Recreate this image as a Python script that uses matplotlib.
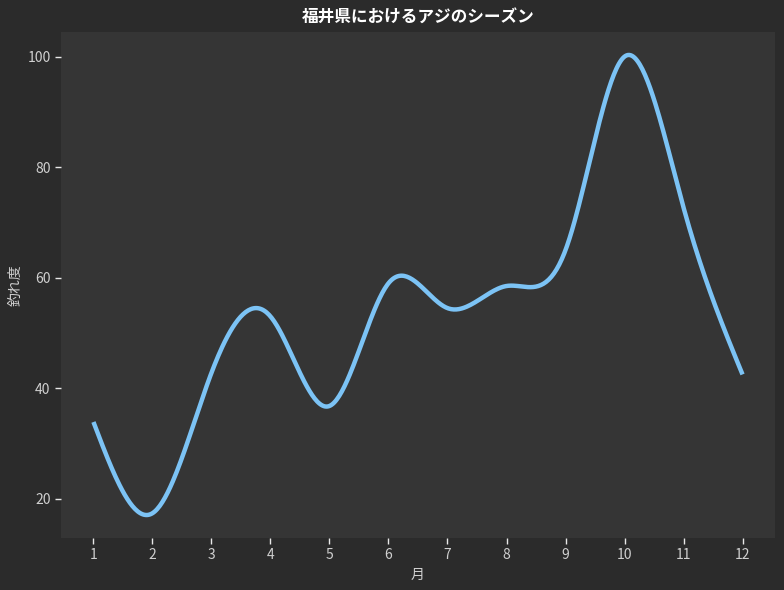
import numpy as np
import matplotlib
matplotlib.use("Agg")
import matplotlib.pyplot as plt

plt.rcParams['font.family'] = ['Noto Sans CJK JP', 'DejaVu Sans']

months = [1, 2, 3, 4, 5, 6, 7, 8, 9, 10, 11, 12]
catch_rate = [33.9, 17.4, 42.8, 53.0, 36.8, 59.0, 54.5, 58.5, 65.0, 100.0, 72.7, 42.5]
title = "福井県におけるアジのシーズン"
xlabel = "月"
ylabel = "釣れ度"


def natural_spline(x, y, xs):
    x = np.asarray(x, float)
    y = np.asarray(y, float)
    n = len(x)
    h = np.diff(x)
    A = np.zeros((n, n))
    b = np.zeros(n)
    A[0, 0] = 1.0
    A[-1, -1] = 1.0
    for i in range(1, n - 1):
        A[i, i - 1] = h[i - 1]
        A[i, i] = 2 * (h[i - 1] + h[i])
        A[i, i + 1] = h[i]
        b[i] = 6 * ((y[i + 1] - y[i]) / h[i] - (y[i] - y[i - 1]) / h[i - 1])
    M = np.linalg.solve(A, b)
    idx = np.clip(np.searchsorted(x, xs) - 1, 0, n - 2)
    x0, x1 = x[idx], x[idx + 1]
    hh = x1 - x0
    return (M[idx] * (x1 - xs) ** 3 / (6 * hh) + M[idx + 1] * (xs - x0) ** 3 / (6 * hh)
            + (y[idx] / hh - M[idx] * hh / 6) * (x1 - xs)
            + (y[idx + 1] / hh - M[idx + 1] * hh / 6) * (xs - x0))


xs = np.linspace(min(months), max(months), 500)
ys = natural_spline(months, catch_rate, xs)

fig = plt.figure(figsize=(7.84, 5.9), dpi=100, facecolor='#2b2b2b')
ax = fig.add_axes([0.0778, 0.0881, 0.9107, 0.8577])
ax.set_facecolor('#353535')
ax.plot(xs, ys, color='#7cc3f5', linewidth=3.2, solid_capstyle='butt')

for s in ax.spines.values():
    s.set_visible(False)
ax.set_xticks(months)
ax.set_xticklabels([str(m) for m in months])
ax.set_yticks([20, 40, 60, 80, 100])
ax.tick_params(colors='#e8e8e8', labelcolor='#d0d0d0', labelsize=10, length=4, width=1)
ax.set_title(title, color='white', fontsize=12, fontweight='bold', pad=7)
ax.set_xlabel(xlabel, color='#d0d0d0', fontsize=10, labelpad=4)
ax.set_ylabel(ylabel, color='#d0d0d0', fontsize=10, labelpad=3)

fig.savefig('out.png', dpi=100, facecolor=fig.get_facecolor())
